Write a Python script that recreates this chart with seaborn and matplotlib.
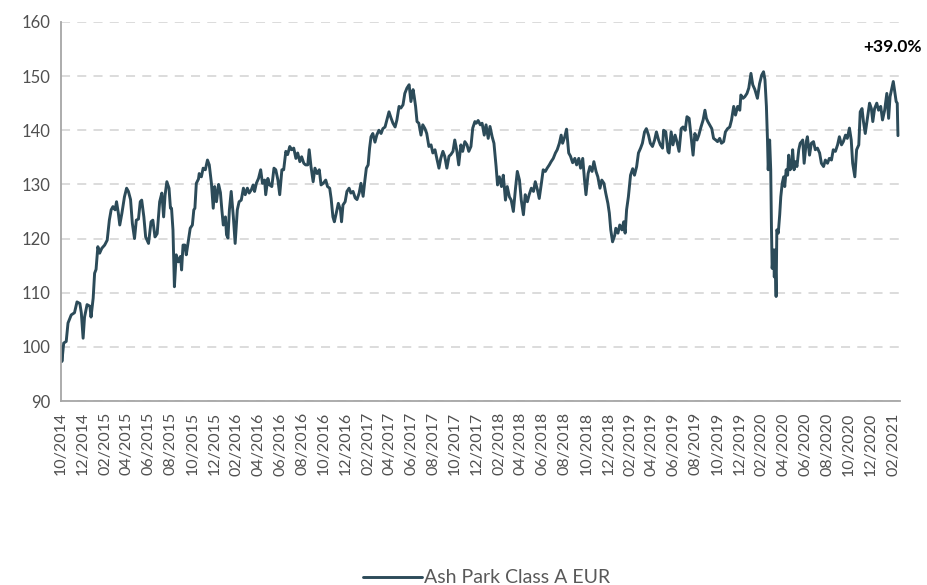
import matplotlib.pyplot as plt
import matplotlib.dates as mdates
import seaborn as sns
import numpy as np
import pandas as pd

# fund NAV, rebased to 100 on launch
start_date = "2014-10-01"
day_offsets = [
    0, 2, 7, 14, 19, 28, 37, 44, 52, 56, 61, 65, 72, 80, 83, 89, 93, 97, 102, 107,
    113, 121, 128, 134, 139, 144, 150, 154, 159, 163, 169, 176, 182, 187, 193, 198, 204, 209, 215, 220,
    224, 230, 235, 243, 250, 255, 261, 267, 274, 280, 285, 289, 294, 300, 304, 307, 311, 315, 320, 326,
    332, 335, 339, 344, 348, 354, 359, 365, 369, 372, 376, 382, 384, 390, 395, 401, 407, 412, 418, 423,
    427, 432, 438, 443, 447, 451, 457, 460, 464, 468, 473, 479, 484, 490, 495, 501, 507, 512, 518, 523,
    529, 534, 538, 543, 549, 555, 560, 566, 569, 575, 580, 586, 592, 597, 603, 608, 614, 619, 625, 630,
    636, 641, 647, 653, 658, 664, 669, 675, 680, 686, 690, 695, 701, 706, 712, 718, 723, 729, 736, 741,
    747, 751, 756, 760, 765, 771, 777, 780, 784, 790, 795, 801, 806, 812, 818, 823, 829, 834, 840, 845,
    849, 854, 858, 862, 867, 873, 878, 884, 890, 895, 901, 906, 912, 918, 923, 929, 934, 940, 945, 951,
    956, 962, 968, 973, 979, 982, 986, 990, 995, 1001, 1006, 1012, 1017, 1023, 1029, 1034, 1040, 1045, 1051, 1056,
    1062, 1067, 1073, 1079, 1084, 1090, 1095, 1101, 1106, 1112, 1117, 1123, 1129, 1134, 1140, 1145, 1151, 1155, 1160, 1166,
    1171, 1177, 1182, 1188, 1193, 1199, 1204, 1210, 1214, 1219, 1225, 1230, 1236, 1241, 1247, 1252, 1258, 1264, 1269, 1275,
    1280, 1286, 1291, 1297, 1302, 1308, 1314, 1319, 1325, 1330, 1336, 1341, 1347, 1352, 1358, 1363, 1369, 1375, 1380, 1386,
    1391, 1395, 1401, 1406, 1412, 1417, 1423, 1429, 1434, 1440, 1445, 1451, 1456, 1460, 1466, 1471, 1477, 1482, 1488, 1493,
    1499, 1504, 1510, 1515, 1521, 1525, 1529, 1534, 1540, 1543, 1549, 1554, 1560, 1565, 1569, 1573, 1578, 1584, 1590, 1595,
    1601, 1606, 1612, 1617, 1623, 1628, 1634, 1639, 1645, 1651, 1656, 1662, 1667, 1673, 1676, 1682, 1688, 1691, 1697, 1702,
    1708, 1713, 1719, 1725, 1730, 1736, 1741, 1747, 1752, 1758, 1763, 1769, 1774, 1780, 1786, 1791, 1795, 1799, 1804, 1810,
    1815, 1821, 1826, 1832, 1837, 1843, 1848, 1854, 1860, 1865, 1871, 1876, 1882, 1888, 1891, 1897, 1902, 1908, 1913, 1919,
    1924, 1930, 1937, 1943, 1949, 1954, 1958, 1962, 1965, 1967, 1971, 1974, 1976, 1978, 1982, 1984, 1986, 1989, 1991, 1995,
    1999, 2002, 2006, 2010, 2013, 2017, 2021, 2024, 2028, 2032, 2035, 2039, 2043, 2047, 2052, 2056, 2060, 2063, 2067, 2073,
    2076, 2082, 2087, 2093, 2098, 2104, 2110, 2115, 2121, 2126, 2132, 2137, 2143, 2148, 2154, 2160, 2165, 2171, 2176, 2182,
    2187, 2193, 2198, 2202, 2208, 2213, 2219, 2223, 2228, 2232, 2237, 2243, 2249, 2254, 2258, 2263, 2269, 2274, 2280, 2285,
    2291, 2297, 2302, 2306, 2312, 2315, 2319, 2323, 2326, 2328,
]
nav = [
    100.0, 97.3, 100.7, 101.0, 104.4, 105.9, 106.3, 108.3, 108.0, 106.3, 101.6, 105.5, 107.8, 107.5, 105.5, 109.0, 113.6, 114.3, 118.5, 117.3,
    118.2, 118.8, 119.7, 123.4, 125.3, 125.9, 125.3, 126.8, 124.7, 122.5, 124.7, 127.7, 129.3, 128.7, 127.2, 122.8, 120.0, 123.4, 123.6, 126.8,
    127.1, 124.0, 120.3, 119.1, 123.1, 123.4, 120.3, 120.9, 126.8, 128.4, 124.0, 128.0, 130.5, 129.3, 125.6, 125.6, 121.6, 111.1, 117.0, 115.7,
    116.7, 114.2, 118.8, 118.8, 117.0, 119.7, 121.9, 122.5, 125.3, 125.6, 130.2, 131.0, 132.0, 131.4, 133.0, 132.7, 134.5, 133.6, 130.2, 125.6,
    129.6, 126.8, 130.0, 128.5, 125.3, 122.5, 124.0, 120.7, 120.1, 125.3, 128.7, 124.0, 119.1, 125.3, 126.8, 127.1, 129.3, 128.1, 129.3, 128.4,
    129.0, 129.9, 128.7, 130.2, 131.1, 132.7, 130.2, 130.8, 128.1, 131.1, 129.9, 129.6, 133.0, 132.7, 130.8, 128.1, 132.7, 132.7, 136.1, 135.5,
    137.0, 136.4, 136.7, 134.8, 135.8, 134.2, 135.1, 133.9, 133.6, 133.6, 136.4, 133.3, 130.5, 133.0, 132.0, 132.7, 129.9, 130.2, 130.8, 129.6,
    129.3, 127.4, 124.0, 123.1, 124.6, 126.5, 125.3, 123.1, 126.2, 126.8, 128.7, 129.3, 128.4, 128.7, 127.5, 127.2, 128.4, 130.2, 127.8, 130.8,
    133.0, 133.6, 136.7, 138.8, 139.4, 137.8, 139.1, 140.0, 139.4, 140.3, 140.6, 141.9, 143.4, 142.2, 141.3, 140.6, 141.9, 144.4, 144.1, 144.7,
    146.8, 147.8, 148.4, 145.3, 147.5, 146.3, 144.4, 141.6, 141.3, 139.1, 141.0, 140.3, 139.4, 137.0, 137.3, 135.8, 136.4, 134.8, 133.0, 134.8,
    136.1, 135.2, 133.0, 135.2, 135.5, 136.1, 138.2, 136.1, 133.6, 137.3, 136.1, 137.9, 137.3, 136.1, 137.0, 140.4, 141.6, 141.3, 141.8, 141.0,
    141.3, 139.1, 141.0, 138.5, 140.7, 138.8, 137.6, 133.3, 129.9, 131.4, 129.6, 131.7, 127.1, 129.6, 127.7, 127.1, 125.0, 129.3, 132.4, 130.8,
    127.1, 124.4, 128.1, 126.8, 128.1, 129.3, 128.7, 130.5, 129.0, 127.4, 130.2, 132.7, 132.4, 133.0, 133.6, 134.2, 134.8, 135.8, 136.4, 137.6,
    139.1, 137.6, 138.8, 140.2, 135.8, 135.2, 134.0, 134.8, 133.6, 134.8, 133.0, 134.8, 130.8, 128.1, 132.0, 133.3, 132.4, 134.2, 132.4, 131.4,
    129.3, 130.8, 130.2, 128.4, 126.5, 124.7, 121.6, 119.4, 120.6, 121.9, 121.0, 122.5, 121.6, 123.1, 121.0, 125.3, 127.7, 131.7, 132.9, 131.7,
    133.3, 135.8, 136.7, 137.6, 139.7, 140.3, 139.1, 137.6, 137.0, 138.2, 139.7, 138.2, 137.3, 136.7, 140.0, 139.7, 136.1, 135.8, 139.7, 137.3,
    139.1, 137.9, 136.1, 140.3, 140.6, 140.0, 142.5, 142.2, 139.1, 135.4, 139.4, 138.2, 139.1, 140.6, 141.9, 143.7, 142.2, 141.6, 141.0, 140.3,
    138.5, 138.2, 137.9, 138.5, 137.6, 137.9, 139.7, 140.3, 140.6, 141.9, 144.4, 142.8, 144.4, 143.7, 146.5, 145.9, 146.2, 146.8, 147.8, 150.5,
    148.4, 147.5, 145.9, 148.6, 150.2, 150.8, 149.3, 144.4, 138.2, 132.7, 138.2, 132.7, 122.2, 114.5, 117.9, 112.9, 117.9, 109.3, 121.6, 121.0,
    124.4, 127.7, 130.2, 131.4, 129.6, 132.7, 131.7, 135.4, 132.7, 133.3, 136.4, 132.7, 134.2, 133.3, 136.4, 137.6, 137.9, 138.2, 133.9, 137.9,
    138.8, 135.4, 137.6, 137.9, 136.4, 136.7, 135.8, 133.9, 133.3, 134.5, 133.9, 134.8, 134.5, 136.4, 136.1, 137.3, 138.8, 137.3, 137.9, 139.1,
    138.5, 140.4, 138.2, 133.9, 131.4, 136.4, 137.3, 143.4, 144.0, 141.6, 139.4, 142.2, 145.0, 144.0, 141.6, 144.0, 145.0, 143.7, 144.4, 141.9,
    143.7, 146.8, 142.2, 146.2, 148.1, 149.0, 147.2, 145.3, 145.0, 139.0,
]
series_name = "Ash Park Class A EUR"
perf_label = "+39.0%"
y_ticks = [90, 100, 110, 120, 130, 140, 150, 160]

df = pd.DataFrame({
    "date": pd.Timestamp(start_date) + pd.to_timedelta(day_offsets, unit="D"),
    "nav": nav,
})
df["fund"] = series_name

sns.set_style("white")
plt.rcParams["font.family"] = ["Lato", "DejaVu Sans"]

fig = plt.figure(figsize=(9.27, 5.85), dpi=100)
ax = fig.add_axes([0.066, 0.3145, 0.905, 0.648])

sns.lineplot(data=df, x="date", y="nav", hue="fund", palette=["#2c4b59"],
             linewidth=2.1, ax=ax, legend=True)

ax.set_ylim(90, 160)
ax.set_yticks(y_ticks)
ax.set_xlim(pd.Timestamp("2014-10-01"), pd.Timestamp("2021-02-20"))
ax.xaxis.set_major_locator(mdates.MonthLocator(bymonth=[2, 4, 6, 8, 10, 12]))
ax.xaxis.set_major_formatter(mdates.DateFormatter("%m/%Y"))
plt.setp(ax.get_xticklabels(), rotation=90)

ax.yaxis.grid(True, linestyle=(0, (5, 4)), color="#d9d9d9", linewidth=1.3)
ax.xaxis.grid(False)
ax.set_axisbelow(True)
ax.set_xlabel("")
ax.set_ylabel("")

for side in ["top", "right"]:
    ax.spines[side].set_visible(False)
for side in ["left", "bottom"]:
    ax.spines[side].set_color("#a6a6a6")
    ax.spines[side].set_linewidth(1.3)
ax.tick_params(axis="both", which="major", direction="out", length=5, width=1.1,
               color="#a6a6a6", labelcolor="#505050", labelsize=12, pad=3)
ax.tick_params(axis="x", labelsize=11.5)

ax.get_legend().remove()
handles, labels = ax.get_legend_handles_labels()
fig.legend(handles, labels, loc="center", bbox_to_anchor=(0.525, 0.012),
           frameon=False, fontsize=14, labelcolor="#595959",
           handlelength=3.0, handletextpad=0.1)

fig.text(0.963, 0.919, perf_label, ha="center", va="center",
         fontsize=12.5, fontweight="bold", color="black")

fig.savefig("out.png", dpi=100)
